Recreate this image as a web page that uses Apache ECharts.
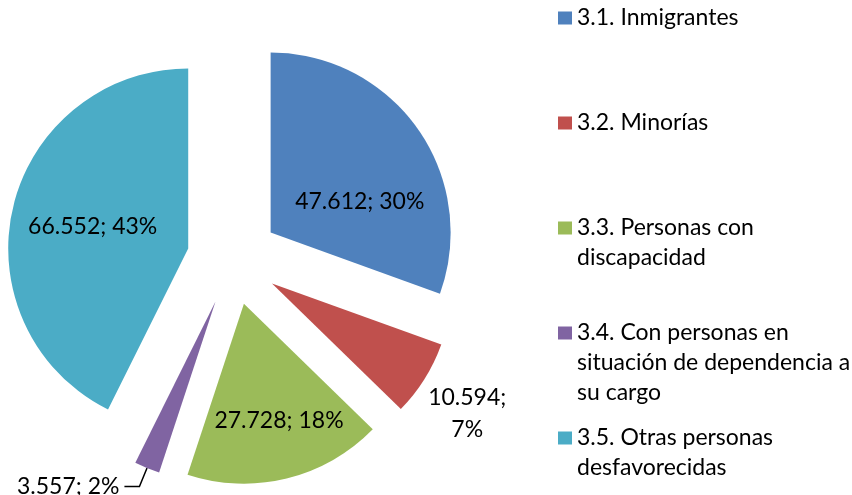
<!DOCTYPE html>
<html>
<head>
<meta charset="utf-8">
<script src="https://cdn.jsdelivr.net/npm/echarts@6/dist/echarts.min.js"></script>
<style>
  html, body { margin: 0; padding: 0; background: #fff; }
  #main { width: 852px; height: 495px; }
</style>
</head>
<body>
<div id="main"></div>
<script>
var categories = ['3.1. Inmigrantes', '3.2. Minorías', '3.3. Personas con discapacidad',
    '3.4. Con personas en situación de dependencia a su cargo', '3.5. Otras personas desfavorecidas'];
var values = [47612, 10594, 27728, 3557, 66552];
var legendLabels = ['3.1. Inmigrantes', '3.2. Minorías', '3.3. Personas con\ndiscapacidad',
    '3.4. Con personas en\nsituación de dependencia a\nsu cargo', '3.5. Otras personas\ndesfavorecidas'];
var colors = ['#4F81BD', '#C0504D', '#9BBB59', '#8064A2', '#4BACC6'];

var FONT = 'Lato';

function fmtNum(v) {
    return String(v).replace(/\B(?=(\d{3})+(?!\d))/g, '.');
}

var dom = document.getElementById('main');
var myChart = echarts.init(dom, null, { renderer: 'canvas' });

// label nudges to mimic the original placement
var labelShift = [[13, 22], [15, 27], [13, 27], [0, 0], [-5, -1]];
var legendTops = [3, 108, 183, 258, 393];

var legends = legendLabels.map(function(lbl, i) {
    var lines = lbl.split('\n').length;
    // pad with blank lines above so the first line sits level with the icon
    var text = new Array(lines).join('\n') + lbl;
    return {
        data: [categories[i]],
        left: 558,
        top: legendTops[i],
        orient: 'vertical',
        padding: 0,
        icon: 'rect',
        itemWidth: 14,
        itemHeight: 13,
        selectedMode: false,
        formatter: function() { return text; },
        textStyle: {
            fontFamily: FONT,
            fontSize: 23,
            lineHeight: 30,
            color: '#000'
        }
    };
});

var option = {
    animation: false,
    color: colors,
    legend: legends,
    series: [{
        type: 'pie',
        center: [233, 259],
        radius: 180,
        startAngle: 90,
        clockwise: true,
        selectedMode: 'multiple',
        selectedOffset: 46,
        percentPrecision: 0,
        avoidLabelOverlap: false,
        itemStyle: { borderWidth: 0 },
        emphasis: { disabled: true },
        select: { itemStyle: { borderWidth: 0 } },
        label: {
            position: 'inside',
            fontFamily: FONT,
            fontSize: 23,
            lineHeight: 32,
            color: '#000',
            formatter: function(p) {
                var sep = p.dataIndex === 1 ? ';\n' : '; ';
                return fmtNum(p.value) + sep + p.percent + '%';
            }
        },
        labelLayout: function(params) {
            var s = labelShift[params.dataIndex];
            var res = { dx: s[0], dy: s[1] };
            if (params.dataIndex === 1) res.align = 'center';
            return res;
        },
        data: categories.map(function(name, i) {
            var item = { name: name, value: values[i], selected: true };
            if (i === 1) {
                item.label = { position: 'outside' };
                item.labelLine = { show: false, length: 15, length2: 10 };
            }
            if (i === 3) {
                item.label = { position: 'outside' };
                item.labelLine = { show: true, length: 20, length2: 15, lineStyle: { color: '#000', width: 1.5 } };
            }
            return item;
        })
    }]
};

myChart.setOption(option, true);
</script>
</body>
</html>
